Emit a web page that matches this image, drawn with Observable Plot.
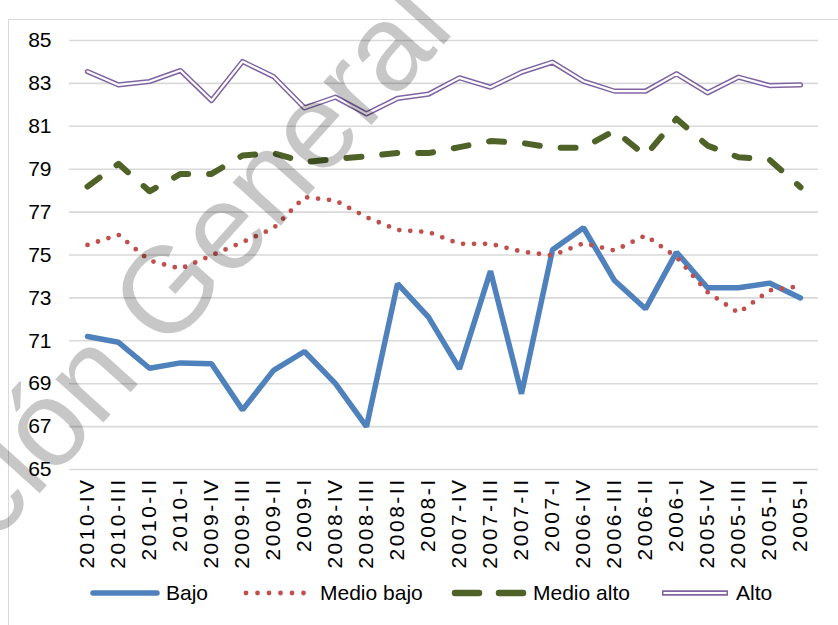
<!DOCTYPE html>
<html>
<head>
<meta charset="utf-8">
<script src="https://cdn.jsdelivr.net/npm/d3@7"></script>
<script src="https://cdn.jsdelivr.net/npm/@observablehq/plot@0.6"></script>
<style>
  html, body { margin: 0; padding: 0; background: #fff; }
  body { width: 838px; height: 625px; position: relative; overflow: hidden; font-family: "Liberation Sans", Arial, sans-serif; }
  #frame { position: absolute; left: 8px; top: 19px; width: 860px; height: 640px; border: 1.5px solid #d9d9d9; box-sizing: border-box; }
  #chart { position: absolute; left: 0; top: 0; }
  #legend { position: absolute; left: 0; top: 580px; width: 838px; height: 26px; font-size: 21px; color: #000; }
  #legend .item { position: absolute; top: 0; height: 26px; display: flex; align-items: center; white-space: nowrap; }
  #legend svg { margin-right: 6px; }
  #wm { position: absolute; left: 0; top: 0; pointer-events: none; }
  g[aria-label="x-axis tick label"] text { letter-spacing: 2.5px; }
</style>
</head>
<body>
<div id="frame"></div>
<div id="chart"></div>
<div id="legend"></div>
<script>
const categories = ["2010-IV","2010-III","2010-II","2010-I","2009-IV","2009-III","2009-II","2009-I","2008-IV","2008-III","2008-II","2008-I","2007-IV","2007-III","2007-II","2007-I","2006-IV","2006-III","2006-II","2006-I","2005-IV","2005-III","2005-II","2005-I"];
const bajo      = [71.2,70.93,69.72,69.97,69.93,67.78,69.62,70.5,69.0,67.0,73.66,72.1,69.69,74.25,68.53,75.24,76.27,73.81,72.49,75.13,73.47,73.47,73.69,73.0];
const medioBajo = [75.47,75.94,74.74,74.36,74.98,75.6,76.25,77.7,77.54,76.76,76.17,76.07,75.52,75.52,75.16,74.98,75.55,75.21,75.91,74.9,73.27,72.3,73.35,73.55];
const medioAlto = [78.19,79.25,77.97,78.78,78.78,79.64,79.75,79.33,79.48,79.6,79.76,79.75,80.03,80.31,80.23,80.0,80.0,80.8,79.64,81.35,80.1,79.56,79.44,78.16];
const alto      = [83.55,82.93,83.09,83.6,82.2,84.02,83.32,81.86,82.36,81.58,82.3,82.5,83.26,82.82,83.52,83.99,83.1,82.64,82.64,83.45,82.56,83.29,82.9,82.93];
const yTicks = [65,67,69,71,73,75,77,79,81,83,85];
const seriesNames = ["Bajo","Medio bajo","Medio alto","Alto"];
const colors = {"Bajo":"#4f81bd","Medio bajo":"#c0504d","Medio alto":"#4f6228","Alto":"#8064a2"};
const watermark = ["Dirección", "General de"];

const toRows = (vals) => categories.map((c, i) => ({cat: c, v: vals[i]}));

const chart = Plot.plot({
  width: 838,
  height: 575,
  marginLeft: 69,
  marginRight: 20,
  marginTop: 40,
  marginBottom: 106,
  style: {fontFamily: '"Liberation Sans", Arial, sans-serif', fontSize: "21px", color: "#000", background: "transparent", overflow: "visible"},
  x: {type: "point", domain: categories, padding: 0.5, label: null},
  y: {domain: [65, 85], label: null},
  marks: [
    Plot.ruleY(yTicks, {stroke: "#d9d9d9", strokeWidth: 1.6}),
    Plot.axisY({ticks: yTicks, tickSize: 0, tickPadding: 18, fontSize: 21, label: null}),
    Plot.axisX({tickSize: 0, tickPadding: 8, tickRotate: -90, fontSize: 21, label: null}),
    Plot.line(toRows(bajo), {x: "cat", y: "v", stroke: colors["Bajo"], strokeWidth: 5.5, strokeLinejoin: "miter", strokeLinecap: "round"}),
    Plot.line(toRows(medioBajo), {x: "cat", y: "v", stroke: colors["Medio bajo"], strokeWidth: 4.8, strokeDasharray: "0 11", strokeLinecap: "round"}),
    Plot.line(toRows(medioAlto), {x: "cat", y: "v", stroke: colors["Medio alto"], strokeWidth: 6, strokeDasharray: "15 21", strokeLinecap: "round"}),
    Plot.line(toRows(alto), {x: "cat", y: "v", stroke: colors["Alto"], strokeWidth: 5.2}),
    Plot.line(toRows(alto), {x: "cat", y: "v", stroke: "#fff", strokeWidth: 2.2})
  ]
});
document.getElementById("chart").appendChild(chart);

// Legend
const legendLeft = {"Bajo": 90, "Medio bajo": 242, "Medio alto": 451, "Alto": 660};
const legend = d3.select("#legend");
seriesNames.forEach(name => {
  const item = legend.append("div").attr("class", "item").style("left", legendLeft[name] + "px");
  const w = name === "Medio alto" ? 76 : (name === "Medio bajo" ? 72 : 70);
  const s = item.append("svg").attr("width", w).attr("height", 14);
  if (name === "Bajo") {
    s.append("line").attr("x1", 3).attr("x2", w - 3).attr("y1", 7).attr("y2", 7)
      .attr("stroke", colors[name]).attr("stroke-width", 5.5).attr("stroke-linecap", "round");
  } else if (name === "Medio bajo") {
    s.append("line").attr("x1", 4).attr("x2", w - 2).attr("y1", 7).attr("y2", 7)
      .attr("stroke", colors[name]).attr("stroke-width", 4.8).attr("stroke-dasharray", "0 11.5").attr("stroke-linecap", "round");
  } else if (name === "Medio alto") {
    s.append("line").attr("x1", 4).attr("x2", w - 4).attr("y1", 7).attr("y2", 7)
      .attr("stroke", colors[name]).attr("stroke-width", 6.5).attr("stroke-dasharray", "24 20").attr("stroke-linecap", "round");
  } else {
    s.append("line").attr("x1", 2).attr("x2", w - 2).attr("y1", 7).attr("y2", 7)
      .attr("stroke", colors[name]).attr("stroke-width", 5.5);
    s.append("line").attr("x1", 3.5).attr("x2", w - 3.5).attr("y1", 7).attr("y2", 7)
      .attr("stroke", "#fff").attr("stroke-width", 2.2);
  }
  item.append("span").text(name);
});

// Watermark overlay
const wm = d3.select("body").append("svg").attr("id", "wm").attr("width", 838).attr("height", 625);
const g = wm.append("g").attr("transform", "translate(166,353) rotate(-48)")
  .attr("font-family", '"Liberation Sans", Arial, sans-serif').attr("font-size", 122)
  .attr("fill", "#000").attr("fill-opacity", 0.22);
g.append("text").attr("text-anchor", "end").attr("x", -34).text(watermark[0]);
g.append("text").attr("text-anchor", "start").attr("x", 0).text(watermark[1]);
</script>
</body>
</html>
